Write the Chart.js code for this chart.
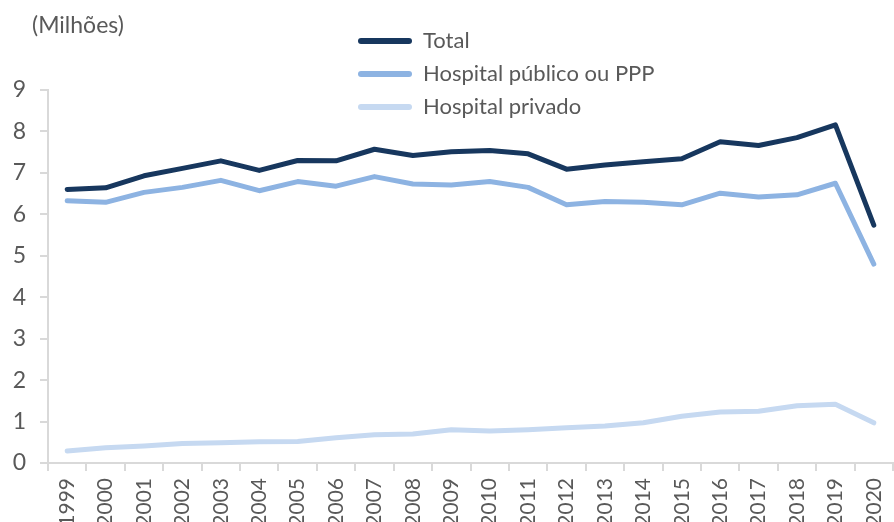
<!DOCTYPE html>
<html>
<head>
<meta charset="utf-8">
<script src="https://cdn.jsdelivr.net/npm/chart.js@4"></script>
<style>
  html, body { margin: 0; padding: 0; background: #fff; overflow: hidden; }
  #wrap { width: 906px; height: 522px; }
</style>
</head>
<body>
<div id="wrap"><canvas id="lineChart" width="906" height="522"></canvas></div>
<script>
const years = ["1999","2000","2001","2002","2003","2004","2005","2006","2007","2008","2009",
  "2010","2011","2012","2013","2014","2015","2016","2017","2018","2019","2020"];
const total = [6.60, 6.64, 6.93, 7.11, 7.29, 7.06, 7.30, 7.29, 7.57, 7.42, 7.51,
  7.54, 7.46, 7.09, 7.19, 7.27, 7.34, 7.75, 7.66, 7.85, 8.16, 5.74];
const publico = [6.33, 6.29, 6.53, 6.65, 6.82, 6.57, 6.79, 6.68, 6.91, 6.73, 6.71,
  6.79, 6.65, 6.23, 6.31, 6.29, 6.23, 6.51, 6.42, 6.47, 6.75, 4.80];
const privado = [0.29, 0.37, 0.41, 0.47, 0.49, 0.51, 0.52, 0.61, 0.68, 0.70, 0.80,
  0.77, 0.80, 0.85, 0.89, 0.97, 1.13, 1.23, 1.25, 1.38, 1.42, 0.97];
const seriesNames = ["Total", "Hospital público ou PPP", "Hospital privado"];
const unitLabel = "(Milhões)";

const textColor = "#595959";
const axisColor = "#d9d9d9";
const fontFamily = "Lato, 'Open Sans', sans-serif";

// legend + unit label drawn by hand (stacked legend at the top)
const topLegend = {
  id: "topLegend",
  afterDraw(chart) {
    const ctx = chart.ctx;
    ctx.save();
    ctx.fillStyle = textColor;
    ctx.textBaseline = "middle";
    ctx.textAlign = "left";
    ctx.font = "23px " + fontFamily;
    ctx.fillText(unitLabel, 32, 26);

    ctx.font = "22px " + fontFamily;
    chart.data.datasets.forEach((ds, i) => {
      const y = 41 + i * 33;
      ctx.strokeStyle = ds.borderColor;
      ctx.lineWidth = 6;
      ctx.lineCap = "round";
      ctx.beginPath();
      ctx.moveTo(361, y);
      ctx.lineTo(409, y);
      ctx.stroke();
      ctx.fillStyle = textColor;
      ctx.fillText(ds.label, 423, y);
    });
    ctx.restore();
  },
};

const lineCtx = document.getElementById("lineChart").getContext("2d");
const lineChart = new Chart(lineCtx, {
  type: "line",
  data: {
    labels: years,
    datasets: [
      { label: seriesNames[0], data: total, borderColor: "#17375e" },
      { label: seriesNames[1], data: publico, borderColor: "#8db3e2" },
      { label: seriesNames[2], data: privado, borderColor: "#c6d9f1" },
    ].map((d) => ({
      ...d,
      borderWidth: 5,
      pointRadius: 0,
      tension: 0,
      borderCapStyle: "round",
      borderJoinStyle: "round",
      fill: false,
    })),
  },
  options: {
    responsive: false,
    animation: false,
    layout: { padding: { top: 90, left: 0, right: 0, bottom: 0 } },
    plugins: { legend: { display: false }, tooltip: { enabled: false } },
    scales: {
      x: {
        offset: true,
        grid: {
          display: true,
          offset: true,
          drawOnChartArea: false,
          drawTicks: true,
          tickLength: 8,
          color: axisColor,
          lineWidth: 2,
        },
        border: { display: true, color: axisColor, width: 2 },
        ticks: {
          minRotation: 90,
          maxRotation: 90,
          autoSkip: false,
          padding: 7,
          color: textColor,
          font: { family: fontFamily, size: 21 },
        },
        afterFit: (scale) => { scale.height = 59; },
      },
      y: {
        min: 0,
        max: 9,
        ticks: {
          stepSize: 1,
          padding: 14,
          color: textColor,
          font: { family: fontFamily, size: 23 },
        },
        grid: {
          display: true,
          drawOnChartArea: false,
          drawTicks: true,
          tickLength: 8,
          color: axisColor,
          lineWidth: 2,
        },
        border: { display: true, color: axisColor, width: 2 },
        afterFit: (scale) => { scale.width = 48; },
      },
    },
  },
  plugins: [topLegend],
});
</script>
</body>
</html>
